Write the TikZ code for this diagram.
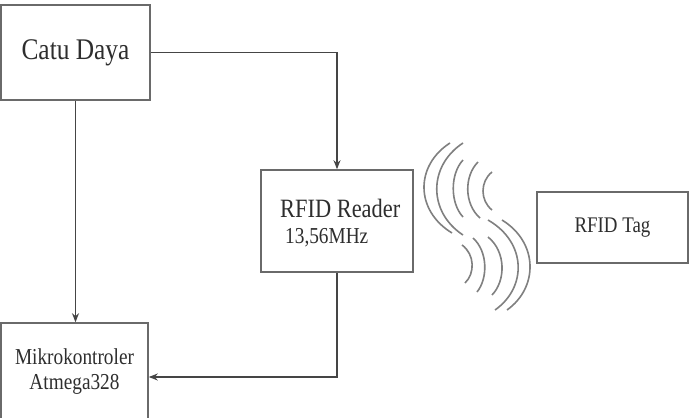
\documentclass[tikz,border=0pt]{standalone}
\usepackage{fontspec}
\usepackage{graphicx}
\setmainfont{Liberation Serif}
\usetikzlibrary{calc,arrows.meta}
\definecolor{linec}{HTML}{454545}
\definecolor{boxc}{HTML}{6A6A6A}
\definecolor{wavec}{HTML}{808080}
\definecolor{textc}{HTML}{2E2E2E}
\newcommand{\vs}[1]{\scalebox{1}[1.18]{#1}}
\tikzset{
  box/.style={draw=boxc, line width=1.6pt, rectangle, inner sep=0pt, text=textc, align=center},
  arr/.style={draw=linec, line width=1.4pt, -{Stealth[length=9pt,width=7pt]}},
  wave/.style={draw=wavec, line width=1.6pt},
}
\begin{document}
\begin{tikzpicture}[x=1pt,y=-1pt]
\useasboundingbox (0,0) rectangle (694,418);
\fill[white] (0,0) rectangle (694,418);
% boxes
\node[box, minimum width=149pt, minimum height=95pt, font=\fontsize{25.4}{28}\selectfont] (catu) at (75.5,52.5) {\vs{Catu Daya}};
\node[box, minimum width=152pt, minimum height=102pt] (reader) at (337,221) {};
\node[textc, anchor=base west, font=\fontsize{22.4}{26}\selectfont, inner sep=0pt] (rt1) at (280,217) {\vs{RFID Reader}};
\node[textc, anchor=base west, font=\fontsize{19.3}{22}\selectfont, inner sep=0pt] (rt2) at (285,243) {\vs{13,56MHz}};
\node[box, minimum width=151pt, minimum height=71pt, font=\fontsize{18.9}{22}\selectfont] (tag) at (612.5,227.5) {\vs{RFID Tag}};
\node[box, minimum width=147pt, minimum height=98pt, font=\fontsize{19.3}{24}\selectfont] (mikro) at (74.5,372) {\vs{Mikrokontroler}\\[1pt]\vs{Atmega328}};
% connectors
\coordinate (mkin) at ($(mikro.east)+(0,5)$);
\draw[arr] (catu.east) -| (reader.north);
\draw[arr] (catu.south) -- (catu.south |- mikro.north);
\draw[arr] (reader.south) |- (mkin);
% waves upper group
\draw[wave] (450,143) .. controls (415,165.5) and (415,210.5) .. (452,233);
\draw[wave] (463,143) .. controls (428,166) and (428,212) .. (463,235);
\draw[wave] (463,160) .. controls (450,174) and (450,203) .. (463,217);
\draw[wave] (478,162) .. controls (464,176) and (464,204) .. (480,218);
\draw[wave] (492,172) .. controls (480,181.5) and (480,200.5) .. (492,210);
% waves lower group
\draw[wave] (462,245) .. controls (475,254.5) and (475,273.5) .. (465,283);
\draw[wave] (473,238) .. controls (488,251.5) and (488,278.5) .. (477,292);
\draw[wave] (488,237) .. controls (506,251.5) and (506,280.5) .. (492,295);
\draw[wave] (488,220) .. controls (527,242.5) and (527,287.5) .. (495,310);
\draw[wave] (502,220) .. controls (538.5,242.5) and (538.5,287.5) .. (507,310);
\end{tikzpicture}
\end{document}
